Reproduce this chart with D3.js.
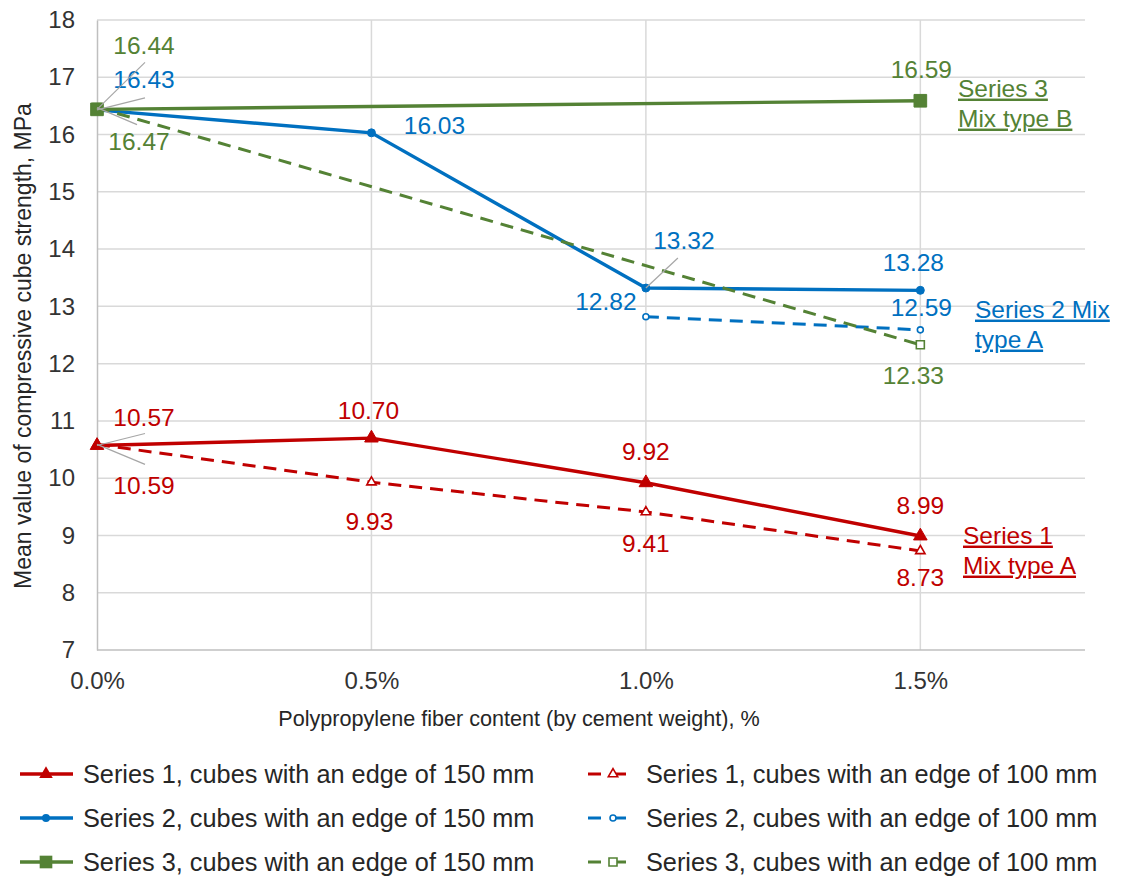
<!DOCTYPE html>
<html>
<head>
<meta charset="utf-8">
<script src="https://cdn.jsdelivr.net/npm/d3@7"></script>
<style>
  body { margin: 0; background: #fff; }
  svg text { font-family: "Liberation Sans", Arial, sans-serif; }
</style>
</head>
<body>
<svg id="chart" width="1121" height="879"></svg>
<script>
// fiber content, %
const fiberContent = [0, 0.5, 1.0, 1.5];
const xTickLabels = ["0.0%", "0.5%", "1.0%", "1.5%"];
const yTicks = [7, 8, 9, 10, 11, 12, 13, 14, 15, 16, 17, 18];

// mean compressive strength, MPa (null = not tested)
const s1Cube150 = [10.57, 10.70, 9.92, 8.99];
const s1Cube100 = [10.59, 9.93, 9.41, 8.73];
const s2Cube150 = [16.43, 16.03, 13.32, 13.28];
const s2Cube100 = [null, null, 12.82, 12.59];
const s3Cube150 = [16.44, null, null, 16.59];
const s3Cube100 = [16.47, null, null, 12.33];

const legendNames = [
  "Series 1, cubes with an edge of 150 mm",
  "Series 1, cubes with an edge of 100 mm",
  "Series 2, cubes with an edge of 150 mm",
  "Series 2, cubes with an edge of 100 mm",
  "Series 3, cubes with an edge of 150 mm",
  "Series 3, cubes with an edge of 100 mm"
];

const RED = "#c00000";
const BLUE = "#0070c0";
const GREEN = "#548235";

// label placement [dx, dy] per point, leader end where a leader line is drawn
const series = [
  { values: s1Cube150, color: RED, dashed: false, marker: "triangle", filled: true,
    labels: [[47, -28, [48, -12]], [-3, -28], [0, -31], [0, -31]] },
  { values: s1Cube100, color: RED, dashed: true, marker: "triangle", filled: false,
    labels: [[47, 41, [48, 20]], [-2, 39], [0, 31], [0, 27]] },
  { values: s2Cube150, color: BLUE, dashed: false, marker: "circle", filled: true,
    labels: [[47, -30, [48, -12]], [63, -7], [38, -48, [32, -30]], [-7, -28]] },
  { values: s2Cube100, color: BLUE, dashed: true, marker: "circle", filled: false,
    labels: [null, null, [-40, -15], [1, -22]] },
  { values: s3Cube150, color: GREEN, dashed: false, marker: "square", filled: true,
    labels: [[47, -64, [48, -47]], null, null, [1, -31]] },
  { values: s3Cube100, color: GREEN, dashed: true, marker: "square", filled: false,
    labels: [[42, 34, [40, 17]], null, null, [-7, 31]] }
];

const svg = d3.select("#chart");
const margin = { top: 20, right: 36, bottom: 229, left: 97 };
const width = 1121 - margin.left - margin.right;
const height = 879 - margin.top - margin.bottom;

const x = d3.scaleLinear().domain([0, 1.8]).range([0, width]);
const y = d3.scaleLinear().domain([7, 18]).range([height, 0]);

const g = svg.append("g").attr("transform", `translate(${margin.left},${margin.top})`);

// gridlines
g.append("g")
  .selectAll("line")
  .data(yTicks.slice(1))
  .join("line")
  .attr("x1", 0).attr("x2", width)
  .attr("y1", (d) => y(d)).attr("y2", (d) => y(d))
  .attr("stroke", "#d9d9d9").attr("stroke-width", 1.5);

g.append("g")
  .selectAll("line")
  .data(fiberContent.slice(1))
  .join("line")
  .attr("x1", (d) => x(d)).attr("x2", (d) => x(d))
  .attr("y1", 0).attr("y2", height)
  .attr("stroke", "#d9d9d9").attr("stroke-width", 1.5);

// axes
const yAxis = g.append("g")
  .call(d3.axisLeft(y).tickValues(yTicks).tickSize(0).tickPadding(22).tickFormat(d3.format("d")));
const xAxis = g.append("g")
  .attr("transform", `translate(0,${height})`)
  .call(d3.axisBottom(x).tickValues(fiberContent).tickSize(0).tickPadding(22)
    .tickFormat((d, i) => xTickLabels[i]));

[xAxis, yAxis].forEach((ax) => {
  ax.select(".domain").attr("stroke", "#bfbfbf").attr("stroke-width", 1.5);
  ax.selectAll("text").attr("font-size", 24).attr("fill", "#333333")
    .style("font-family", "Liberation Sans, Arial, sans-serif");
});
xAxis.select(".domain").attr("d", `M0,0H${width}`);

// axis titles
svg.append("text")
  .attr("x", 519)
  .attr("y", 726)
  .attr("text-anchor", "middle")
  .attr("font-size", 21.6)
  .attr("fill", "#262626")
  .text("Polypropylene fiber content (by cement weight), %");

svg.append("text")
  .attr("transform", "translate(31,346) rotate(-90)")
  .attr("text-anchor", "middle")
  .attr("font-size", 23)
  .attr("fill", "#262626")
  .text("Mean value of compressive cube strength, MPa");

function markerPath(type, filled) {
  const sym = type === "triangle" ? d3.symbolTriangle : type === "circle" ? d3.symbolCircle : d3.symbolSquare;
  const sizes = {
    triangle: filled ? 80 : 38,
    circle: filled ? 50 : 28,
    square: filled ? 160 : 64
  };
  return d3.symbol().type(sym).size(sizes[type])();
}

const line = d3.line().x((d) => x(d.x)).y((d) => y(d.v));

const drawOrder = [1, 0, 3, 2, 5, 4];
drawOrder.forEach((si) => {
  const s = series[si];
  const pts = s.values
    .map((v, i) => ({ x: fiberContent[i], v, i }))
    .filter((d) => d.v !== null);

  g.append("path")
    .datum(pts)
    .attr("d", line)
    .attr("fill", "none")
    .attr("stroke", s.color)
    .attr("stroke-width", s.dashed ? 3 : 3.4)
    .attr("stroke-dasharray", s.dashed ? "13,8" : null);

  g.append("g")
    .selectAll("path")
    .data(pts)
    .join("path")
    .attr("transform", (d) => `translate(${x(d.x)},${y(d.v)})`)
    .attr("d", markerPath(s.marker, s.filled))
    .attr("fill", s.filled ? s.color : "#fff")
    .attr("stroke", s.color)
    .attr("stroke-width", s.filled ? 1 : 1.6);
});

// data labels
series.forEach((s) => {
  s.values.forEach((v, i) => {
    const lab = s.labels[i];
    if (v === null || !lab) return;
    const px = x(fiberContent[i]);
    const py = y(v);
    if (lab[2]) {
      g.append("line")
        .attr("x1", px).attr("y1", py)
        .attr("x2", px + lab[2][0]).attr("y2", py + lab[2][1])
        .attr("stroke", "#a6a6a6").attr("stroke-width", 1.2);
    }
    g.append("text")
      .attr("x", px + lab[0])
      .attr("y", py + lab[1])
      .attr("dy", "0.35em")
      .attr("text-anchor", "middle")
      .attr("font-size", 24.5)
      .attr("fill", s.color)
      .text(d3.format(".2f")(v));
  });
});

// series annotations
const notes = [
  { lines: ["Series 3", "Mix type B"], color: GREEN, x: 958, y: 88 },
  { lines: ["Series 2 Mix", "type A"], color: BLUE, x: 975, y: 309 },
  { lines: ["Series 1", "Mix type A"], color: RED, x: 963, y: 535 }
];
notes.forEach((n) => {
  n.lines.forEach((t, k) => {
    svg.append("text")
      .attr("x", n.x)
      .attr("y", n.y + k * 30)
      .attr("dy", "0.35em")
      .attr("font-size", 24.5)
      .attr("fill", n.color)
      .style("text-decoration", "underline")
      .text(t);
  });
});

// legend
const legend = svg.append("g");
series.forEach((s, si) => {
  const col = si % 2;
  const row = Math.floor(si / 2);
  const ly = 774 + row * 44;
  const lg = legend.append("g");
  if (col === 0) {
    lg.append("line").attr("x1", 20).attr("x2", 73).attr("y1", ly).attr("y2", ly)
      .attr("stroke", s.color).attr("stroke-width", 3.4);
    lg.append("path").attr("transform", `translate(46,${ly})`)
      .attr("d", markerPath(s.marker, s.filled)).attr("fill", s.color);
    lg.append("text").attr("x", 83).attr("y", ly).attr("dy", "0.35em")
      .attr("font-size", 25.3).attr("fill", "#262626").text(legendNames[si]);
  } else {
    lg.append("line").attr("x1", 588).attr("x2", 601).attr("y1", ly).attr("y2", ly)
      .attr("stroke", s.color).attr("stroke-width", 3);
    lg.append("line").attr("x1", 612).attr("x2", 626).attr("y1", ly).attr("y2", ly)
      .attr("stroke", s.color).attr("stroke-width", 3);
    lg.append("path").attr("transform", `translate(613,${ly})`)
      .attr("d", markerPath(s.marker, s.filled))
      .attr("fill", "#fff").attr("stroke", s.color).attr("stroke-width", 1.6);
    lg.append("text").attr("x", 646).attr("y", ly).attr("dy", "0.35em")
      .attr("font-size", 25.3).attr("fill", "#262626").text(legendNames[si]);
  }
});
</script>
</body>
</html>
